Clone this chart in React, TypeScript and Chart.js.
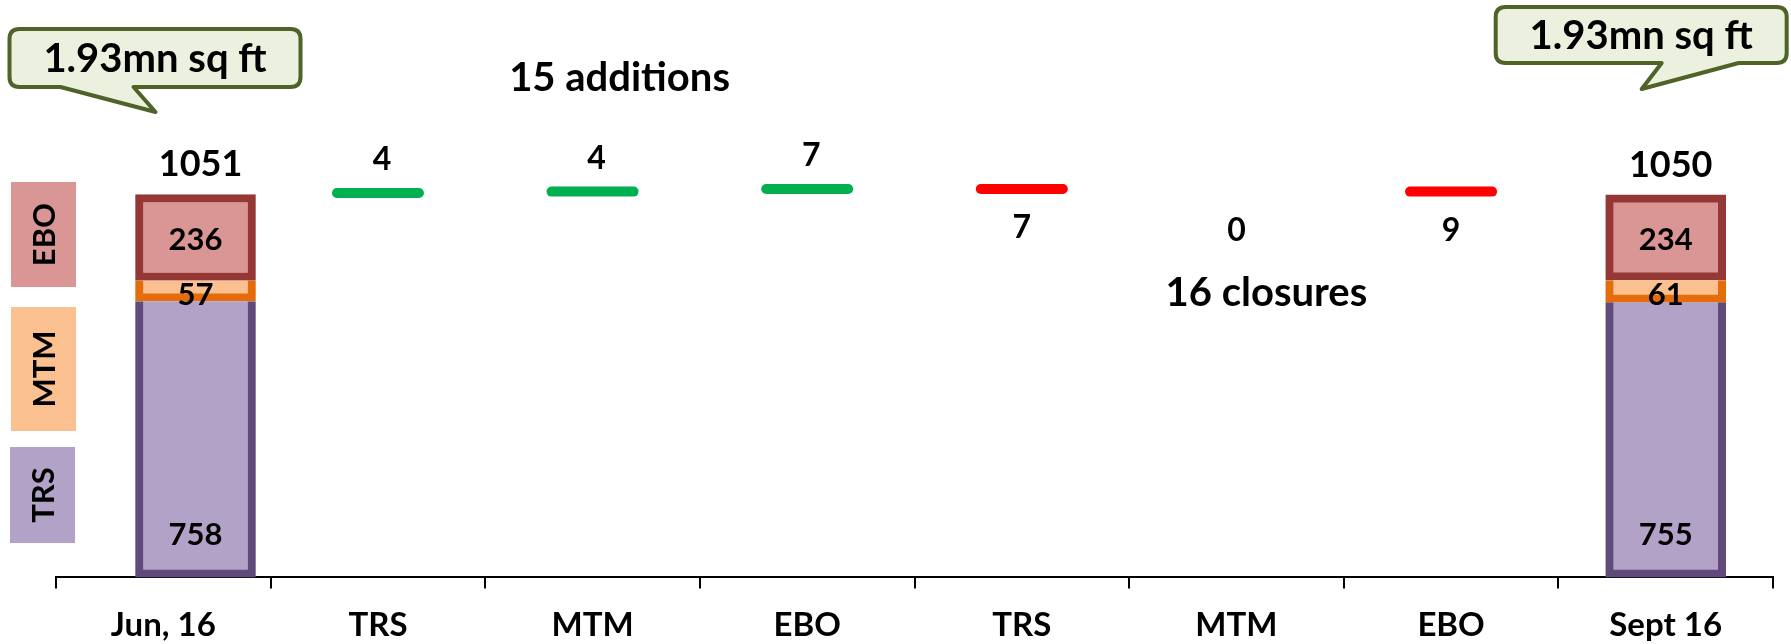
import React, { useEffect, useRef } from 'react';
import { Chart, registerables } from 'chart.js';

Chart.register(...registerables);

// ---------- data ----------
const categories = ['Jun, 16', 'TRS', 'MTM', 'EBO', 'TRS', 'MTM', 'EBO', 'Sept 16'];
const stackPositions = [0.15, 7];
const trsValues = [758, 755];
const mtmValues = [57, 61];
const eboValues = [236, 234];
const totals = [1051, 1050];
const additionIndex = [1, 2, 3];
const additionValues = [4, 4, 7];
const closureIndex = [4, 5, 6];
const closureValues = [7, 0, 9];
const additionsLabel = '15 additions';
const closuresLabel = '16 closures';
const calloutText = '1.93mn sq ft';
const legendLabels = ['EBO', 'MTM', 'TRS'];

// ---------- styles ----------
const FONT = 'Lato, "Open Sans", sans-serif';
const EBO_FILL = '#DA9694';
const EBO_BORDER = '#953735';
const MTM_FILL = '#FAC090';
const MTM_BORDER = '#E46C0A';
const TRS_FILL = '#B3A2C7';
const TRS_BORDER = '#604A7B';
const GREEN = '#00B050';
const RED = '#FF0000';
const Y_MAX = 1585;

// waterfall levels derived from the data
const additionLevels: number[] = [];
{
  let run = totals[0];
  additionValues.forEach((v) => {
    run += v;
    additionLevels.push(run);
  });
}
const closureLevels: number[] = [];
{
  let run = additionLevels[additionLevels.length - 1];
  closureValues.forEach((v) => {
    closureLevels.push(run);
    run -= v;
  });
}

const additionSeries: (number | null)[] = categories.map(() => null);
additionIndex.forEach((ci, i) => (additionSeries[ci] = additionLevels[i]));
const closureSeries: (number | null)[] = categories.map(() => null);
closureIndex.forEach((ci, i) => (closureSeries[ci] = closureValues[i] > 0 ? closureLevels[i] : null));

const legendLayout = [
  { x: 11, y: 182, w: 65, h: 105, fill: EBO_FILL },
  { x: 11, y: 307, w: 65, h: 124, fill: MTM_FILL },
  { x: 10, y: 447, w: 65, h: 96, fill: TRS_FILL },
];

const calloutLayout = [
  { dx: -40.5, top: 29, w: 291, h: 58, tip: 0.5, tipY: 112, b1: -94.5, b2: -21.5 },
  { dx: -24.5, top: 7, w: 291, h: 56, tip: 0.5, tipY: 89, b1: 20.5, b2: 97.5 },
];

function drawText(ctx: CanvasRenderingContext2D, s: string, x: number, y: number, size: number) {
  ctx.font = `bold ${size}px ${FONT}`;
  ctx.fillStyle = '#000';
  ctx.textAlign = 'center';
  ctx.textBaseline = 'middle';
  ctx.fillText(s, x, y);
}

const annotPlugin = {
  id: 'annot',
  beforeDatasetDraw(chart: any, args: any) {
    if (args.meta.type === 'line') {
      chart.ctx.save();
      chart.ctx.lineCap = 'round';
    }
  },
  afterDatasetDraw(chart: any, args: any) {
    if (args.meta.type === 'line') chart.ctx.restore();
  },
  afterDraw(chart: any) {
    const ctx: CanvasRenderingContext2D = chart.ctx;
    const xs = chart.scales.x;
    const yl = chart.scales.yl;
    ctx.save();

    // legend boxes
    legendLayout.forEach((l, i) => {
      ctx.fillStyle = l.fill;
      ctx.fillRect(l.x, l.y, l.w, l.h);
      ctx.save();
      ctx.translate(l.x + l.w / 2 + 1, l.y + l.h / 2);
      ctx.rotate(-Math.PI / 2);
      drawText(ctx, legendLabels[i], 0, 0, 31);
      ctx.restore();
    });

    // bar labels
    const trsMeta = chart.getDatasetMeta(0);
    const mtmMeta = chart.getDatasetMeta(1);
    const eboMeta = chart.getDatasetMeta(2);
    stackPositions.forEach((_, i) => {
      const t = trsMeta.data[i];
      const m = mtmMeta.data[i];
      const e = eboMeta.data[i];
      drawText(ctx, String(trsValues[i]), t.x, t.base - 42, 31);
      drawText(ctx, String(mtmValues[i]), m.x, (m.y + m.base) / 2 + 4, 31);
      drawText(ctx, String(eboValues[i]), e.x, (e.y + e.base) / 2 + 2, 31);
      drawText(ctx, String(totals[i]), e.x + 5, e.y - 30, 36);
    });

    // change labels
    additionIndex.forEach((ci, i) => {
      drawText(ctx, String(additionValues[i]), xs.getPixelForValue(ci) + 4, yl.getPixelForValue(additionLevels[i]) - 33, 32);
    });
    closureIndex.forEach((ci, i) => {
      drawText(ctx, String(closureValues[i]), xs.getPixelForValue(ci), yl.getPixelForValue(closureLevels[i]) + 39, 32);
    });

    drawText(ctx, additionsLabel, xs.getPixelForValue(2) + 27, 78, 40);
    drawText(ctx, closuresLabel, xs.getPixelForValue(5) + 30, 293, 40);

    // callouts
    calloutLayout.forEach((c, i) => {
      const cx = eboMeta.data[i].x + c.dx;
      const left = cx - c.w / 2;
      const right = cx + c.w / 2;
      const top = c.top;
      const bottom = c.top + c.h;
      const r = 10;
      ctx.beginPath();
      ctx.moveTo(left + r, top);
      ctx.lineTo(right - r, top);
      ctx.quadraticCurveTo(right, top, right, top + r);
      ctx.lineTo(right, bottom - r);
      ctx.quadraticCurveTo(right, bottom, right - r, bottom);
      ctx.lineTo(cx + c.b2, bottom);
      ctx.lineTo(cx + c.tip, c.tipY);
      ctx.lineTo(cx + c.b1, bottom);
      ctx.lineTo(left + r, bottom);
      ctx.quadraticCurveTo(left, bottom, left, bottom - r);
      ctx.lineTo(left, top + r);
      ctx.quadraticCurveTo(left, top, left + r, top);
      ctx.closePath();
      ctx.fillStyle = '#EBF1DE';
      ctx.fill();
      ctx.lineWidth = 4;
      ctx.lineJoin = 'round';
      ctx.strokeStyle = '#4F6228';
      ctx.stroke();
      drawText(ctx, calloutText, cx, top + c.h / 2 + 1, 40);
    });

    ctx.restore();
  },
};

export default function App() {
  const ref = useRef<HTMLCanvasElement>(null);

  useEffect(() => {
    document.body.style.margin = '0';
    const canvas = ref.current;
    if (!canvas) return;
    const barBase = {
      type: 'bar' as const,
      xAxisID: 'xb',
      yAxisID: 'y',
      stack: 'totals',
      grouped: false,
      barThickness: 120,
      borderSkipped: false,
    };
    const chart = new Chart(canvas, {
      type: 'bar',
      data: {
        labels: categories,
        datasets: [
          {
            ...barBase,
            label: 'TRS',
            data: stackPositions.map((x, i) => ({ x, y: trsValues[i] })),
            backgroundColor: TRS_FILL,
            borderColor: TRS_BORDER,
            borderWidth: { top: 0, left: 8, right: 8, bottom: 8 },
          } as any,
          {
            ...barBase,
            label: 'MTM',
            data: stackPositions.map((x, i) => ({ x, y: mtmValues[i] })),
            backgroundColor: MTM_FILL,
            borderColor: MTM_BORDER,
            borderWidth: { top: 0, left: 8, right: 8, bottom: 8 },
          } as any,
          {
            ...barBase,
            label: 'EBO',
            data: stackPositions.map((x, i) => ({ x, y: eboValues[i] })),
            backgroundColor: EBO_FILL,
            borderColor: EBO_BORDER,
            borderWidth: 8,
          } as any,
          {
            type: 'line',
            label: 'Additions',
            xAxisID: 'x',
            yAxisID: 'yl',
            data: additionSeries,
            showLine: false,
            pointStyle: 'line',
            pointRadius: 41,
            pointBorderWidth: 10,
            pointBorderColor: GREEN,
            pointBackgroundColor: GREEN,
            clip: false,
          } as any,
          {
            type: 'line',
            label: 'Closures',
            xAxisID: 'x',
            yAxisID: 'yl',
            data: closureSeries,
            showLine: false,
            pointStyle: 'line',
            pointRadius: 41,
            pointBorderWidth: 10,
            pointBorderColor: RED,
            pointBackgroundColor: RED,
            clip: false,
          } as any,
        ],
      },
      options: {
        responsive: false,
        devicePixelRatio: 1,
        animation: false,
        events: [],
        layout: { autoPadding: false, padding: { left: 56, right: 18, top: 0, bottom: -18 } },
        plugins: { legend: { display: false }, tooltip: { enabled: false }, title: { display: false } },
        scales: {
          x: {
            type: 'category',
            offset: true,
            grid: {
              display: true,
              offset: true,
              drawOnChartArea: false,
              drawTicks: true,
              tickLength: 11,
              color: '#000',
              lineWidth: 2,
            },
            border: { display: true, color: '#000', width: 2 },
            ticks: {
              color: '#000',
              font: { family: FONT, size: 33, weight: 'bold' },
              padding: 17,
              maxRotation: 0,
              autoSkip: false,
            },
          },
          xb: {
            type: 'linear',
            display: true,
            position: 'bottom',
            min: -0.5,
            max: 7.5,
            offset: false,
            grid: { display: false, drawTicks: false },
            border: { display: false },
            ticks: { display: false },
            title: { display: false },
          },
          y: {
            type: 'linear',
            display: false,
            stacked: true,
            min: 0,
            max: Y_MAX,
          },
          yl: {
            type: 'linear',
            display: false,
            min: 0,
            max: Y_MAX,
          },
        },
      } as any,
      plugins: [annotPlugin],
    });
    return () => chart.destroy();
  }, []);

  return (
    <div style={{ width: 1791, height: 644, background: '#fff', overflow: 'hidden' }}>
      <canvas ref={ref} width={1791} height={644} style={{ width: 1791, height: 644, display: 'block' }} />
    </div>
  );
}
